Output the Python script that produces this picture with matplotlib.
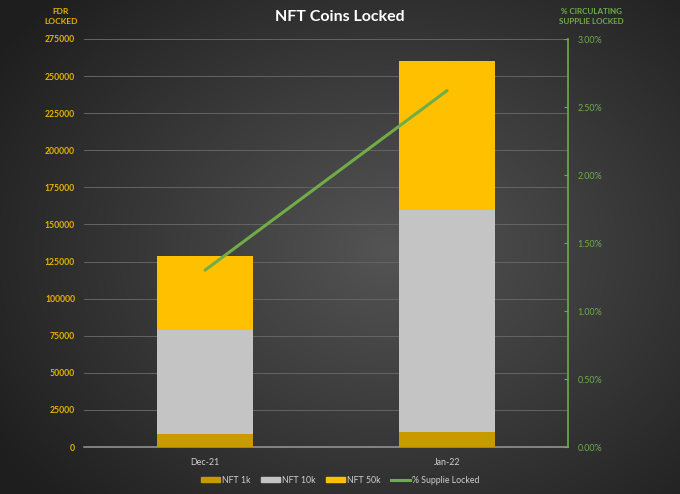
import matplotlib.pyplot as plt
import matplotlib.patches as mpatches
from matplotlib.lines import Line2D
from matplotlib.ticker import FuncFormatter
import numpy as np

plt.rcParams['font.family'] = ['Lato', 'DejaVu Sans']

months = ['Dec-21', 'Jan-22']
nft_1k = [9000, 10000]
nft_10k = [70000, 150000]
nft_50k = [50000, 100000]
supply_locked = [1.30, 2.62]  # percent

c_1k = '#C99A00'
c_10k = '#C4C4C4'
c_50k = '#FFC000'
c_line = '#70AD47'
c_left = '#E8B300'
c_text = '#D0D0D0'

fig = plt.figure(figsize=(6.8, 4.94), dpi=100)

# radial gradient background
bg = fig.add_axes([0, 0, 1, 1], zorder=-10)
yy, xx = np.mgrid[0:494, 0:680]
r = np.sqrt(((xx - 390) / 420.0) ** 2 + ((yy - 250) / 330.0) ** 2)
shade = np.clip(0.33 - 0.19 * r, 0.12, 0.34)
bg.imshow(np.dstack([shade, shade, shade]), aspect='auto', extent=[0, 1, 0, 1])
bg.axis('off')

ax = fig.add_axes([84 / 680, 1 - 447 / 494, 484 / 680, 408 / 494])
ax.patch.set_alpha(0)
x = np.arange(len(months))
w = 0.4
ax.bar(x, nft_1k, w, color=c_1k, zorder=3)
ax.bar(x, nft_10k, w, bottom=nft_1k, color=c_10k, zorder=3)
bot = np.array(nft_1k) + np.array(nft_10k)
ax.bar(x, nft_50k, w, bottom=bot, color=c_50k, zorder=3)

ax.set_xlim(-0.5, 1.5)
ax.set_ylim(0, 275000)
ax.set_yticks(np.arange(0, 275001, 25000))
ax.grid(axis='y', color='#646464', lw=0.7, zorder=0)
ax.set_axisbelow(True)
for s in ['top', 'right', 'left']:
    ax.spines[s].set_visible(False)
ax.spines['bottom'].set_color('#9A9A9A')
ax.spines['bottom'].set_linewidth(1.1)
ax.tick_params(axis='y', length=0, colors=c_left, labelsize=6.2, pad=6.5)
ax.tick_params(axis='x', length=0, colors=c_text, labelsize=6.4, pad=8)
ax.set_xticks(x)
ax.set_xticklabels(months)
for lab in ax.get_yticklabels():
    lab.set_fontweight('bold')

ax2 = ax.twinx()
ax2.set_ylim(0, 3.0)
ax2.set_yticks(np.arange(0, 3.01, 0.5))
ax2.yaxis.set_major_formatter(FuncFormatter(lambda v, p: f'{v:.2f}%'))
ax2.plot(x, supply_locked, color=c_line, lw=2.2, zorder=5, solid_capstyle='round')
for s in ['top', 'left', 'bottom']:
    ax2.spines[s].set_visible(False)
ax2.spines['right'].set_color(c_line)
ax2.spines['right'].set_linewidth(1.2)
ax2.tick_params(axis='y', colors=c_line, labelsize=6.4, length=3, direction='in', pad=7)

fig.text(0.5, 0.965, 'NFT Coins Locked', ha='center', va='center',
         color='white', fontsize=11.5, fontweight='bold')
fig.text(61 / 680, 1 - 16 / 494, 'FDR\nLOCKED', ha='center', va='center',
         color=c_left, fontsize=6, fontweight='bold', linespacing=1.5)
fig.text(591 / 680, 1 - 16 / 494, '% CIRCULATING\nSUPPLIE LOCKED', ha='center', va='center',
         color=c_line, fontsize=5.8, fontweight='bold', linespacing=1.5)

handles = [mpatches.Patch(color=c_1k), mpatches.Patch(color=c_10k),
           mpatches.Patch(color=c_50k), Line2D([], [], color=c_line, lw=2.2)]
labels = ['NFT 1k', 'NFT 10k', 'NFT 50k', '% Supplie Locked']
leg = fig.legend(handles, labels, loc='center', bbox_to_anchor=(0.5, 1 - 480 / 494),
                 ncol=4, frameon=False, fontsize=6.3, handlelength=2.2, handleheight=0.45,
                 handletextpad=0.2, columnspacing=1.2)
for t in leg.get_texts():
    t.set_color(c_text)

fig.savefig('out.png', dpi=100)
